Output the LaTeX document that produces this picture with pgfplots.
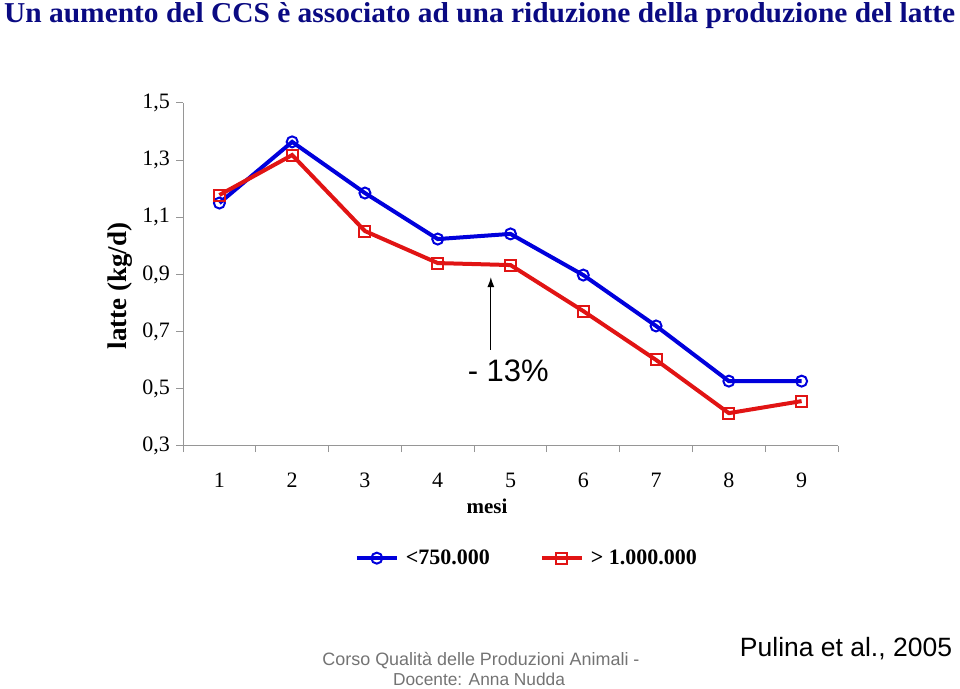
\documentclass[border=0pt]{standalone}
\usepackage{fontspec}
\setmainfont{Liberation Serif}
\newfontfamily\sansf{Liberation Sans}
\usepackage{pgfplots}
\pgfplotsset{compat=1.18}
\usetikzlibrary{arrows.meta}
\usepackage{graphicx}
\definecolor{titleblue}{RGB}{10,10,130}
\definecolor{lblue}{RGB}{0,0,220}
\definecolor{lred}{RGB}{225,20,20}
\definecolor{axgray}{RGB}{150,150,150}
\definecolor{footgray}{RGB}{115,115,115}
\begin{document}
\begin{tikzpicture}[x=1pt,y=1pt]
\path (0,0) rectangle (960,688);
\node[anchor=base west, text=titleblue, inner sep=0] at (4,665) {\resizebox{951pt}{20pt}{\bfseries Un aumento del CCS è associato ad una riduzione della produzione del latte}};
\begin{axis}[
  at={(183pt,242pt)}, anchor=south west, scale only axis,
  width=655pt, height=343pt,
  xmin=0.5, xmax=9.5, ymin=0.3, ymax=1.5,
  axis x line*=bottom, axis y line*=left,
  axis line style={axgray, line width=1pt},
  xtick={1,...,9}, xticklabels={1,2,3,4,5,6,7,8,9},
  minor xtick={0.5,1.5,...,9.5},
  major x tick style={draw=none},
  ytick={0.3,0.5,0.7,0.9,1.1,1.3,1.5},
  yticklabels={{0,3},{0,5},{0,7},{0,9},{1,1},{1,3},{1,5}},
  tick align=outside,
  major tick length=7pt, minor tick length=6pt,
  tick style={axgray, line width=1pt},
  minor tick style={axgray, line width=1pt},
  ticklabel style={font=\fontsize{22}{22}\selectfont},
  yticklabel style={inner sep=0pt, xshift=-6pt},
  xticklabel style={inner sep=0pt, yshift=-20pt},
  clip=false,
  legend style={at={(0.525,-0.327)}, anchor=center, draw=none, fill=none,
    legend columns=2, font=\bfseries\fontsize{22}{22}\selectfont,
    /tikz/every even column/.append style={column sep=48pt}},
  legend image code/.code={\draw[mark repeat=2, mark phase=2] plot coordinates {(0pt,0pt)(20pt,0pt)(40pt,0pt)};},
]
\addplot[lblue, line width=4pt, mark=o, mark size=5.5pt, mark options={fill=white, line width=2pt, solid}]
  coordinates {(1,1.150)(2,1.364)(3,1.185)(4,1.024)(5,1.042)(6,0.898)(7,0.720)(8,0.527)(9,0.527)};
\addlegendentry{\hspace{5pt}<750.000}
\addplot[lred, line width=4pt, mark=square, mark size=5.5pt, mark options={fill=white, line width=2pt, solid}]
  coordinates {(1,1.178)(2,1.318)(3,1.052)(4,0.940)(5,0.933)(6,0.772)(7,0.601)(8,0.415)(9,0.457)};
\addlegendentry{\hspace{5pt}> 1.000.000}
\draw[-{Latex[length=10pt,width=7pt]}, black, line width=1.2pt] (axis cs:4.73,0.636) -- (axis cs:4.73,0.891);
\node[font=\sansf\fontsize{31}{31}\selectfont] at (axis cs:4.97,0.562) {- 13\%};
\end{axis}
\node[font=\bfseries\fontsize{21}{21}\selectfont] at (487,182) {mesi};
\node[font=\bfseries\fontsize{27}{27}\selectfont, rotate=90] at (120,402) {latte (kg/d)};
\node[text=footgray, inner sep=0] at (481,27) {\resizebox{317pt}{!}{\sansf Corso Qualità delle Produzioni Animali -}};
\node[text=footgray, inner sep=0] at (479,9) {\resizebox{172pt}{!}{\sansf Docente: Anna Nudda}};
\node[inner sep=0] at (846,39) {\resizebox{212pt}{!}{\sansf Pulina et al., 2005}};
\end{tikzpicture}
\end{document}
